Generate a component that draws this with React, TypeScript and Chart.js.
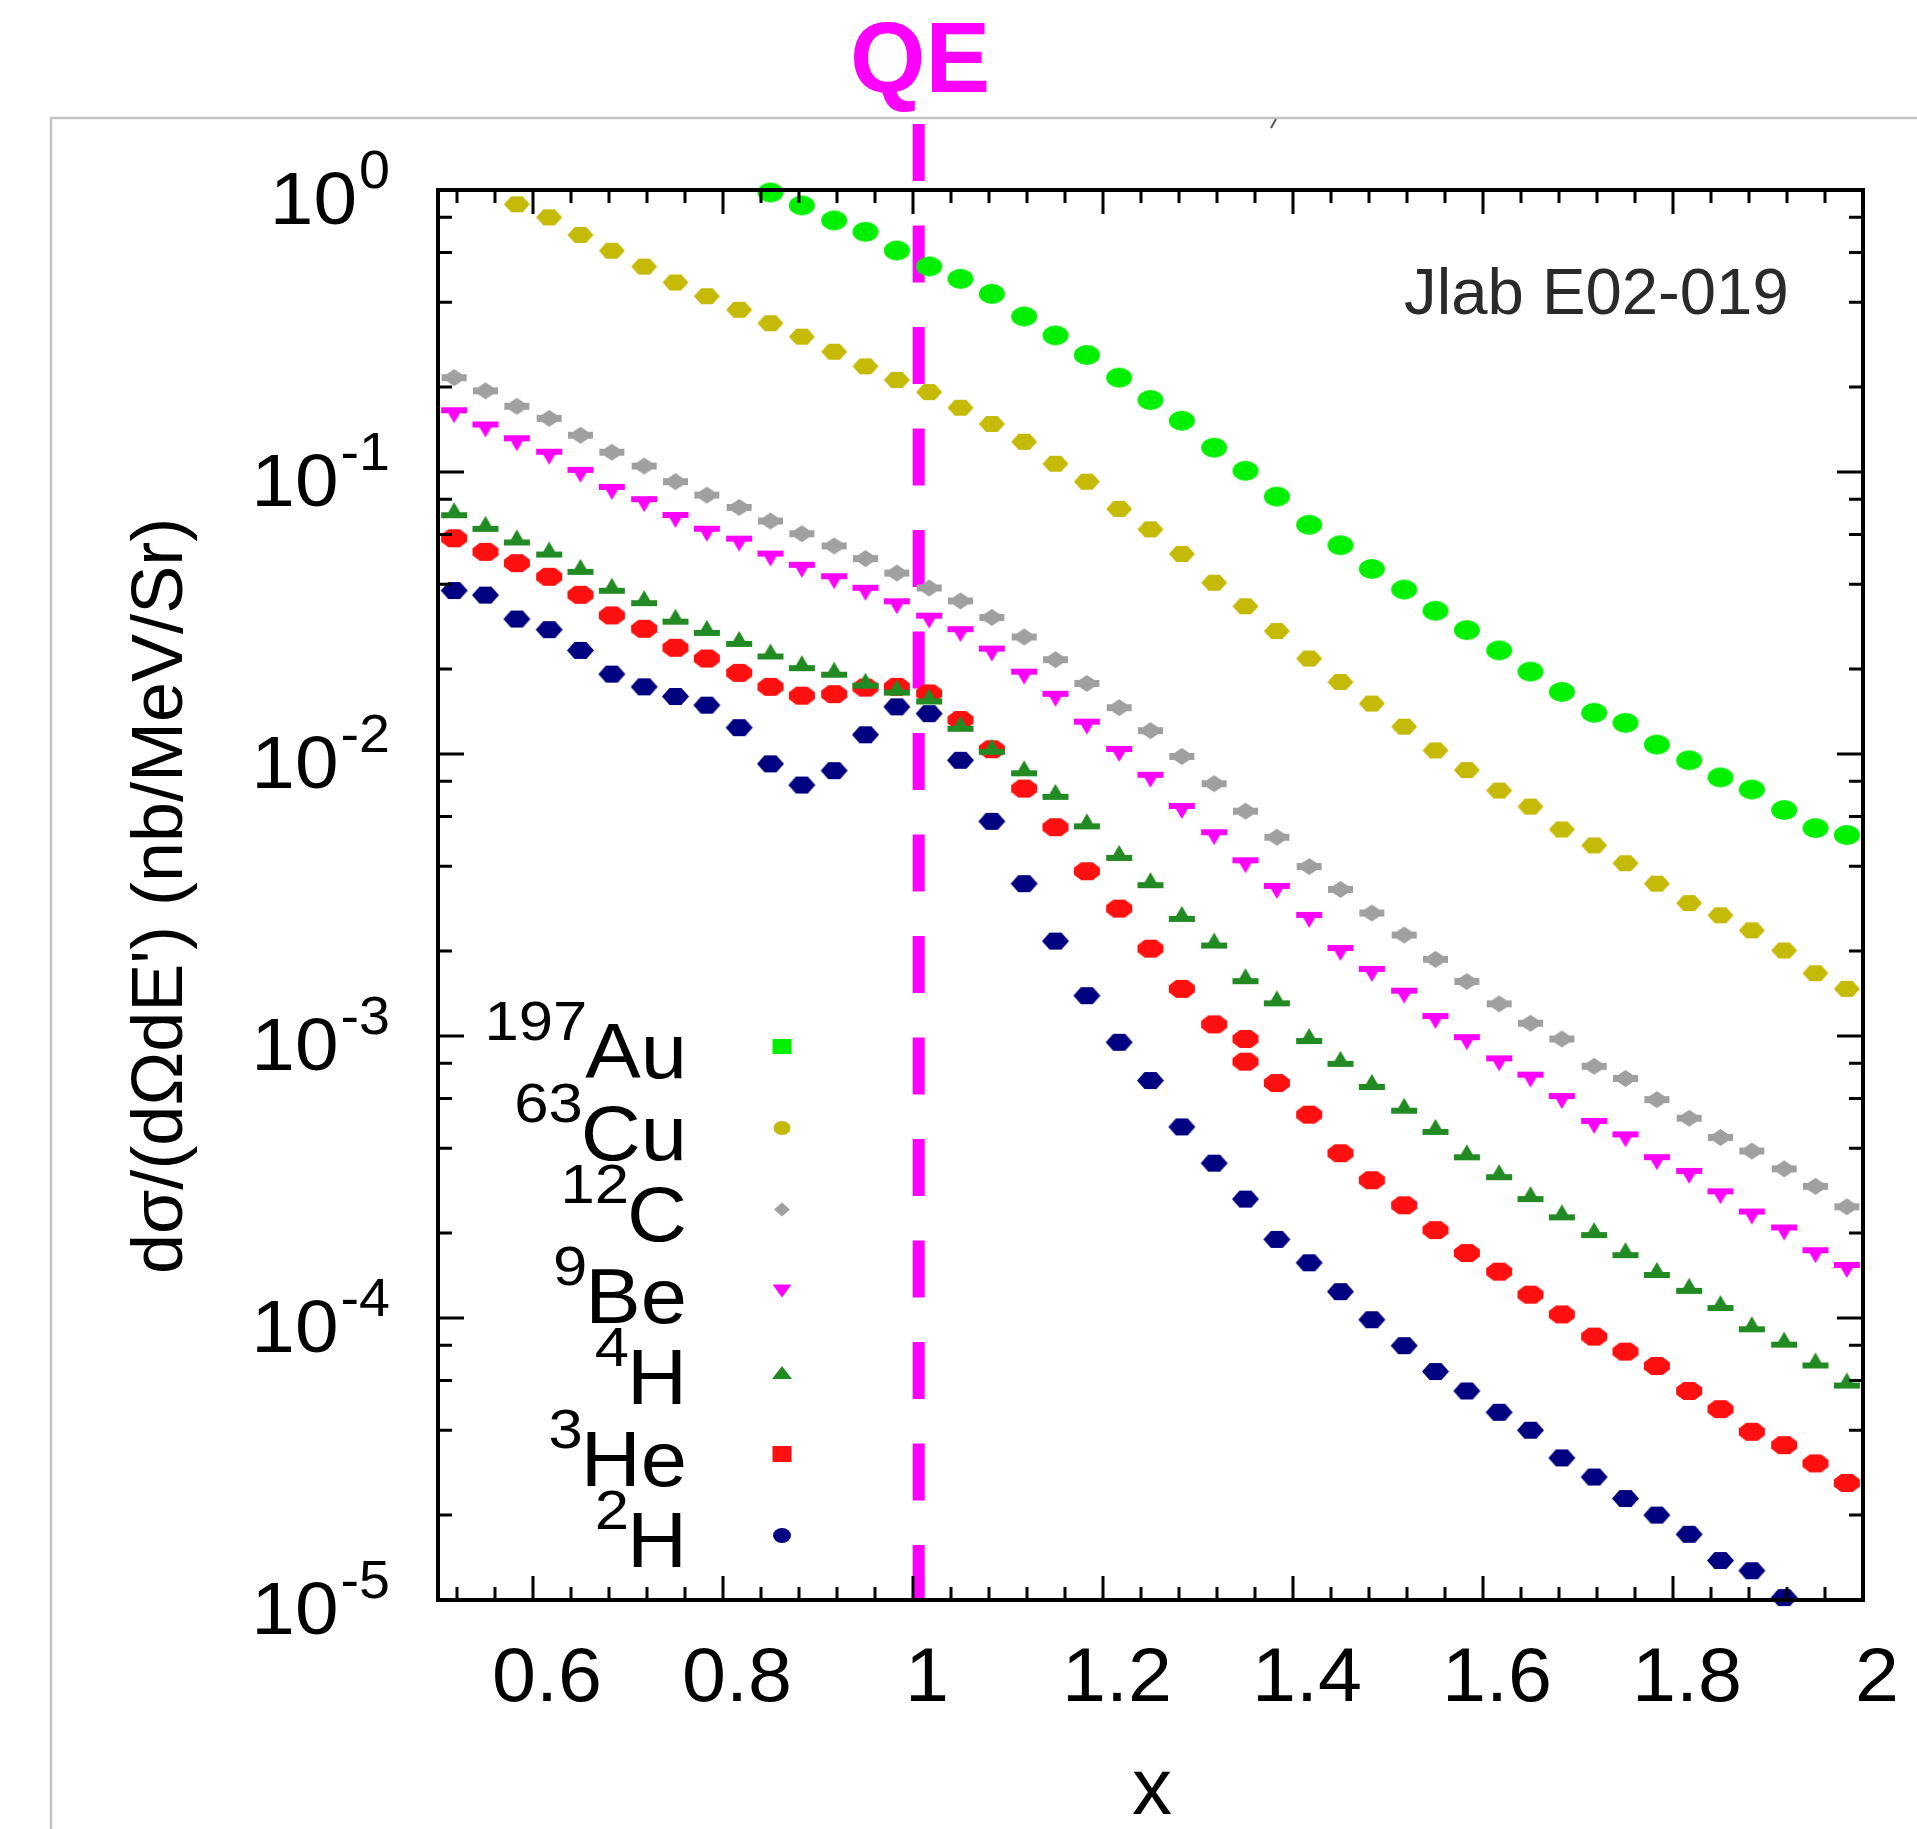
import React, { useEffect, useRef } from 'react';
import { Chart, registerables } from 'chart.js';

Chart.register(...registerables);

// ---------------- data ----------------
const X_BINS = [
  0.517, 0.55, 0.583, 0.617, 0.65, 0.683, 0.717, 0.75, 0.783, 0.817,
  0.85, 0.883, 0.917, 0.95, 0.983, 1.017, 1.05, 1.083, 1.117, 1.15,
  1.183, 1.217, 1.25, 1.283, 1.317, 1.35, 1.383, 1.417, 1.45, 1.483,
  1.517, 1.55, 1.583, 1.617, 1.65, 1.683, 1.717, 1.75, 1.783, 1.817,
  1.85, 1.883, 1.917, 1.95, 1.983,
];

const AU_197 = [
  null, null, null, null, null, null, null, null, null, null,
  0.98, 0.882, 0.78, 0.711, 0.61, 0.536, 0.484, 0.428, 0.356, 0.305,
  0.26, 0.216, 0.18, 0.152, 0.122, 0.101, 0.0818, 0.065, 0.055, 0.0453,
  0.0383, 0.0322, 0.0275, 0.0233, 0.0196, 0.0166, 0.014, 0.0129, 0.0108, 0.0095,
  0.00826, 0.00748, 0.00633, 0.00546, 0.00516,
];

const CU_63 = [
  null, null, 0.89, 0.8, 0.693, 0.609, 0.535, 0.47, 0.42, 0.376,
  0.337, 0.302, 0.267, 0.237, 0.212, 0.192, 0.169, 0.148, 0.128, 0.107,
  0.0924, 0.074, 0.0626, 0.0512, 0.0405, 0.0334, 0.0273, 0.0218, 0.018, 0.0151,
  0.0125, 0.0103, 0.00877, 0.00742, 0.00651, 0.0054, 0.00474, 0.0041, 0.00347, 0.00296,
  0.00268, 0.00237, 0.00201, 0.00167, 0.00147,
];

const C_12 = [
  0.216, 0.194, 0.171, 0.155, 0.135, 0.1175, 0.105, 0.0924, 0.0828, 0.0749,
  0.067, 0.0604, 0.0547, 0.0493, 0.0438, 0.0388, 0.0349, 0.0305, 0.026, 0.0216,
  0.0178, 0.0146, 0.0121, 0.0098, 0.00785, 0.00627, 0.00507, 0.00399, 0.00331, 0.00273,
  0.00228, 0.00187, 0.00156, 0.0013, 0.00111, 0.000976, 0.000781, 0.000707, 0.000595, 0.000511,
  0.000437, 0.000391, 0.000338, 0.000293, 0.000248,
];

const BE_9 = [
  0.159, 0.1415, 0.1265, 0.1133, 0.0977, 0.085, 0.0769, 0.0676, 0.0604, 0.0557,
  0.0493, 0.045, 0.041, 0.0373, 0.0334, 0.0297, 0.0266, 0.0227, 0.0188, 0.0157,
  0.0125, 0.01, 0.0081, 0.00628, 0.00507, 0.00403, 0.00327, 0.00258, 0.00197, 0.00166,
  0.00139, 0.00113, 0.000951, 0.0008, 0.0007, 0.000588, 0.00048, 0.00043, 0.000357, 0.000319,
  0.00027, 0.000229, 0.000201, 0.000167, 0.000148,
];

const HE_4 = [
  0.0732, 0.0655, 0.0586, 0.0531, 0.0461, 0.0395, 0.0357, 0.0307, 0.028, 0.0256,
  0.0231, 0.021, 0.0199, 0.0182, 0.0172, 0.016, 0.0128, 0.0106, 0.0089, 0.00734,
  0.00577, 0.00446, 0.00357, 0.00271, 0.00218, 0.00163, 0.00136, 0.001, 0.00083, 0.000687,
  0.000566, 0.000476, 0.000387, 0.000329, 0.000275, 0.000237, 0.000205, 0.000174, 0.000148, 0.00013,
  0.000113, 0.000095, 0.0000838, 0.0000707, 0.00006,
];

const HE_3 = [
  0.0582, 0.0521, 0.0475, 0.0425, 0.0367, 0.031, 0.0278, 0.0238, 0.0218, 0.0194,
  0.0173, 0.0161, 0.0163, 0.0172, 0.0173, 0.0164, 0.0132, 0.0104, 0.00754, 0.0055,
  0.00384, 0.00283, 0.00204, 0.00147, 0.0011, 0.000976, 0.000681, 0.000526, 0.000384, 0.000308,
  0.000251, 0.000205, 0.00017, 0.000146, 0.000121, 0.000103, 0.0000859, 0.000076, 0.0000676, 0.0000551,
  0.0000475, 0.0000395, 0.0000354, 0.0000305, 0.000026,
];
const HE_3_EXTRA_X = [1.35];
const HE_3_EXTRA_Y = [0.000811];

const H_2 = [
  0.038, 0.0366, 0.0301, 0.0276, 0.0233, 0.0192, 0.0173, 0.016, 0.0149, 0.0124,
  0.00923, 0.00776, 0.00873, 0.0117, 0.0147, 0.0139, 0.0095, 0.00577, 0.00347, 0.00217,
  0.00139, 0.00095, 0.000695, 0.000476, 0.000354, 0.000264, 0.00019, 0.000157, 0.000124, 0.0000986,
  0.0000798, 0.0000646, 0.0000551, 0.0000463, 0.00004, 0.0000319, 0.0000273, 0.0000229, 0.00002, 0.0000171,
  0.0000138, 0.0000127, 0.0000102, null, null,
];

const LEGEND_MASS = ['197', '63', '12', '9', '4', '3', '2'];
const LEGEND_SYM = ['Au', 'Cu', 'C', 'Be', 'H', 'He', 'H'];
const X_TICK_LABELS = ['0.6', '0.8', '1', '1.2', '1.4', '1.6', '1.8', '2'];
const X_TICK_VALUES = [0.6, 0.8, 1.0, 1.2, 1.4, 1.6, 1.8, 2.0];
const Y_DECADES = [0, -1, -2, -3, -4, -5];
const Y_TITLE = "dσ/(dΩdE') (nb/MeV/Sr)";
const X_TITLE = 'x';
const EXPERIMENT = 'Jlab E02-019';
const QE_LABEL = 'QE';
const QE_X = 1.006;

const COLORS = {
  au: '#00f000',
  cu: '#c6ba08',
  c: '#a0a0a0',
  be: '#ff00ff',
  he4: '#228a22',
  he3: '#ff1010',
  h2: '#000080',
};

const FONT = '"Liberation Sans", Arial, Helvetica, sans-serif';

// ---------------- helpers ----------------
function shapePath(g: CanvasRenderingContext2D, kind: string, w: number, h: number) {
  g.beginPath();
  switch (kind) {
    case 'ellipse':
      g.ellipse(0, 0, w / 2, h / 2, 0, 0, Math.PI * 2);
      break;
    case 'hex':
      g.moveTo(-w / 2, 0);
      g.lineTo(-w * 0.22, -h / 2);
      g.lineTo(w * 0.22, -h / 2);
      g.lineTo(w / 2, 0);
      g.lineTo(w * 0.22, h / 2);
      g.lineTo(-w * 0.22, h / 2);
      g.closePath();
      break;
    case 'star':
      g.moveTo(0, -h / 2);
      g.lineTo(w * 0.3, -h * 0.2);
      g.lineTo(w / 2, -h * 0.2);
      g.lineTo(w / 2, h * 0.2);
      g.lineTo(w * 0.3, h * 0.2);
      g.lineTo(0, h / 2);
      g.lineTo(-w * 0.3, h * 0.2);
      g.lineTo(-w / 2, h * 0.2);
      g.lineTo(-w / 2, -h * 0.2);
      g.lineTo(-w * 0.3, -h * 0.2);
      g.closePath();
      break;
    case 'tdown':
      g.moveTo(-w / 2, -h / 2);
      g.lineTo(w / 2, -h / 2);
      g.lineTo(w / 2, -h / 2 + h * 0.38);
      g.lineTo(-w / 2, -h / 2 + h * 0.38);
      g.closePath();
      g.moveTo(-w * 0.36, -h / 2);
      g.lineTo(w * 0.36, -h / 2);
      g.lineTo(0, h / 2);
      g.closePath();
      break;
    case 'tup':
      g.moveTo(-w / 2, h / 2 - h * 0.38);
      g.lineTo(w / 2, h / 2 - h * 0.38);
      g.lineTo(w / 2, h / 2);
      g.lineTo(-w / 2, h / 2);
      g.closePath();
      g.moveTo(0, -h / 2);
      g.lineTo(w * 0.36, h / 2);
      g.lineTo(-w * 0.36, h / 2);
      g.closePath();
      break;
    case 'oct': {
      const a = w * 0.28;
      const b = h * 0.3;
      g.moveTo(-w / 2 + a, -h / 2);
      g.lineTo(w / 2 - a, -h / 2);
      g.lineTo(w / 2, -h / 2 + b);
      g.lineTo(w / 2, h / 2 - b);
      g.lineTo(w / 2 - a, h / 2);
      g.lineTo(-w / 2 + a, h / 2);
      g.lineTo(-w / 2, h / 2 - b);
      g.lineTo(-w / 2, -h / 2 + b);
      g.closePath();
      break;
    }
    case 'rect':
      g.rect(-w / 2, -h / 2, w, h);
      break;
    case 'diamond':
      g.moveTo(0, -h / 2);
      g.lineTo(w / 2, 0);
      g.lineTo(0, h / 2);
      g.lineTo(-w / 2, 0);
      g.closePath();
      break;
    case 'triDown':
      g.moveTo(-w / 2, -h / 2);
      g.lineTo(w / 2, -h / 2);
      g.lineTo(0, h / 2);
      g.closePath();
      break;
    case 'triUp':
      g.moveTo(-w / 2, h / 2);
      g.lineTo(w / 2, h / 2);
      g.lineTo(0, -h / 2);
      g.closePath();
      break;
  }
}

function makeMarker(kind: string, color: string, w: number, h: number): HTMLCanvasElement {
  const c = document.createElement('canvas');
  c.width = w + 6;
  c.height = h + 6;
  const g = c.getContext('2d')!;
  g.translate(c.width / 2, c.height / 2);
  g.fillStyle = color;
  (g as any).filter = 'blur(0.6px)';
  shapePath(g, kind, w, h);
  g.fill();
  return c;
}

function drawText(
  ctx: CanvasRenderingContext2D,
  text: string,
  x: number,
  y: number,
  size: number,
  opts: { align?: CanvasTextAlign; color?: string; bold?: boolean; sx?: number } = {}
) {
  ctx.save();
  ctx.font = `${opts.bold ? 'bold ' : ''}${size}px ${FONT}`;
  ctx.fillStyle = opts.color || '#000';
  ctx.textAlign = opts.align || 'left';
  ctx.textBaseline = 'alphabetic';
  ctx.translate(x, y);
  ctx.scale(opts.sx || 1, 1);
  ctx.fillText(text, 0, 0);
  ctx.restore();
}

function textWidth(ctx: CanvasRenderingContext2D, text: string, size: number, sx = 1, bold = false) {
  ctx.save();
  ctx.font = `${bold ? 'bold ' : ''}${size}px ${FONT}`;
  const w = ctx.measureText(text).width * sx;
  ctx.restore();
  return w;
}

const decorBelow = {
  id: 'decorBelow',
  beforeDatasetsDraw(chart: any) {
    const ctx: CanvasRenderingContext2D = chart.ctx;
    const xs = chart.scales.x;
    const area = chart.chartArea;
    const qx = xs.getPixelForValue(QE_X);
    ctx.save();
    ctx.strokeStyle = '#ff00ff';
    ctx.lineWidth = 12;
    ctx.setLineDash([57, 44.5]);
    ctx.beginPath();
    ctx.moveTo(qx, 124);
    ctx.lineTo(qx, area.bottom);
    ctx.stroke();
    ctx.restore();
  },
};

const decorAbove = {
  id: 'decorAbove',
  afterDatasetsDraw(chart: any) {
    const ctx: CanvasRenderingContext2D = chart.ctx;
    const xs = chart.scales.x;
    const ys = chart.scales.y;
    const a = chart.chartArea;

    // outer grey frame (cropped figure border)
    ctx.save();
    ctx.strokeStyle = '#c4c4c4';
    ctx.lineWidth = 2.5;
    ctx.beginPath();
    ctx.moveTo(51, 1829);
    ctx.lineTo(51, 118);
    ctx.lineTo(1917, 118);
    ctx.stroke();
    ctx.strokeStyle = '#555';
    ctx.lineWidth = 2;
    ctx.beginPath();
    ctx.moveTo(1276, 119);
    ctx.lineTo(1271, 128);
    ctx.stroke();
    ctx.restore();

    // ticks
    ctx.save();
    ctx.strokeStyle = '#000';
    ctx.lineWidth = 3;
    ctx.beginPath();
    for (let i = 0; i <= 37; i++) {
      const v = 0.52 + i * 0.04;
      if (v > 1.999) break;
      const major = Math.abs((v * 10) % 2) < 0.01 || Math.abs((v * 10) % 2 - 2) < 0.01;
      const len = major ? 24 : 13;
      const px = xs.getPixelForValue(v);
      ctx.moveTo(px, a.bottom);
      ctx.lineTo(px, a.bottom - len);
      ctx.moveTo(px, a.top);
      ctx.lineTo(px, a.top + len);
    }
    for (let d = -5; d <= 0; d++) {
      const mults = d === 0 ? [1] : [1, 2, 4, 6, 8];
      for (const m of mults) {
        const v = m * Math.pow(10, d);
        if (v > 1.0001) continue;
        const len = m === 1 ? 26 : 14;
        const py = ys.getPixelForValue(v);
        ctx.moveTo(a.left, py);
        ctx.lineTo(a.left + len, py);
        ctx.moveTo(a.right, py);
        ctx.lineTo(a.right - len, py);
      }
    }
    ctx.stroke();
    ctx.restore();

    // frame
    ctx.save();
    ctx.strokeStyle = '#000';
    ctx.lineWidth = 4;
    ctx.strokeRect(a.left, a.top, a.right - a.left, a.bottom - a.top);
    ctx.restore();

    // x tick labels
    X_TICK_VALUES.forEach((v, i) => {
      const px = xs.getPixelForValue(v) + 14;
      drawText(ctx, X_TICK_LABELS[i], px, 1701, 76, { align: 'center', sx: 1.04 });
    });

    // y tick labels 10^n
    Y_DECADES.forEach((d) => {
      const py = ys.getPixelForValue(Math.pow(10, d));
      const sup = d === 0 ? '0' : `-${-d}`;
      const supSize = 53;
      const mainSize = 74;
      const supW = textWidth(ctx, sup, supSize, 1.05);
      const mainW = textWidth(ctx, '10', mainSize, 1.06);
      const right = 390;
      drawText(ctx, sup, right - supW, py - 2, supSize, { sx: 1.05 });
      drawText(ctx, '10', right - supW - mainW - 2, py + 34, mainSize, { sx: 1.06 });
    });

    // axis titles
    drawText(ctx, X_TITLE, 1152, 1814, 80, { align: 'center' });
    ctx.save();
    ctx.translate(182, 896);
    ctx.rotate(-Math.PI / 2);
    drawText(ctx, Y_TITLE, 0, 0, 72, { align: 'center' });
    ctx.restore();

    // experiment label
    drawText(ctx, EXPERIMENT, 1404, 314, 64, { color: '#2a2a2a', sx: 1.02 });

    // QE label
    drawText(ctx, QE_LABEL, 920, 92, 100, { align: 'center', bold: true, color: '#ff00ff', sx: 0.97 });

    // legend
    const legendKinds = ['rect', 'ellipse', 'diamond', 'triDown', 'triUp', 'rect', 'ellipse'];
    const legendSizes = [
      [19, 15], [17, 14], [16, 14], [19, 13], [20, 13], [19, 16], [18, 15],
    ];
    const legendColors = [COLORS.au, COLORS.cu, COLORS.c, COLORS.be, COLORS.he4, COLORS.he3, COLORS.h2];
    LEGEND_SYM.forEach((sym, i) => {
      const base = 1078 + i * 81.5;
      const mainSize = 77;
      const supSize = 56;
      const right = 687;
      const symW = textWidth(ctx, sym, mainSize, 1.08);
      drawText(ctx, sym, right - symW, base, mainSize, { sx: 1.08 });
      const massW = textWidth(ctx, LEGEND_MASS[i], supSize, 1.1);
      drawText(ctx, LEGEND_MASS[i], right - symW - massW + 2, base - 38, supSize, { sx: 1.1 });
      ctx.save();
      ctx.translate(782, base - 31.5);
      ctx.fillStyle = legendColors[i];
      shapePath(ctx, legendKinds[i], legendSizes[i][0], legendSizes[i][1]);
      ctx.fill();
      ctx.restore();
    });
  },
};

function series(ys: (number | null)[]) {
  const pts: { x: number; y: number }[] = [];
  ys.forEach((y, i) => {
    if (y !== null) pts.push({ x: X_BINS[i], y });
  });
  return pts;
}

export default function App() {
  const ref = useRef<HTMLCanvasElement | null>(null);

  useEffect(() => {
    document.body.style.margin = '0';
    const canvas = ref.current!;
    const he3Pts = series(HE_3).concat(HE_3_EXTRA_X.map((x, i) => ({ x, y: HE_3_EXTRA_Y[i] })));
    const mk = (label: string, data: any[], style: HTMLCanvasElement) => ({
      label,
      data,
      pointStyle: style,
      pointRadius: 12,
      pointBorderWidth: 0,
      showLine: false,
      clip: false as any,
    });
    const chart = new Chart(canvas, {
      type: 'scatter',
      data: {
        datasets: [
          mk('197Au', series(AU_197), makeMarker('ellipse', COLORS.au, 26, 20)),
          mk('63Cu', series(CU_63), makeMarker('hex', COLORS.cu, 26, 16)),
          mk('12C', series(C_12), makeMarker('star', COLORS.c, 25, 17)),
          mk('9Be', series(BE_9), makeMarker('tdown', COLORS.be, 26, 16)),
          mk('4He', series(HE_4), makeMarker('tup', COLORS.he4, 26, 16)),
          mk('3He', he3Pts, makeMarker('oct', COLORS.he3, 26, 18)),
          mk('2H', series(H_2), makeMarker('hex', COLORS.h2, 27, 17)),
        ] as any,
      },
      options: {
        animation: false,
        responsive: false,
        devicePixelRatio: 1,
        events: [],
        layout: { padding: { left: 438, right: 1917 - 1863, top: 190, bottom: 1829 - 1600 } },
        scales: {
          x: { type: 'linear', min: 0.5, max: 2.0, display: false },
          y: { type: 'logarithmic', min: 1e-5, max: 1, display: false },
        },
        plugins: { legend: { display: false }, tooltip: { enabled: false } },
      },
      plugins: [decorBelow, decorAbove],
    });
    return () => chart.destroy();
  }, []);

  return (
    <div style={{ width: 1917, height: 1829, position: 'relative', background: '#fff' }}>
      <canvas ref={ref} width={1917} height={1829} style={{ display: 'block', width: 1917, height: 1829 }} />
    </div>
  );
}
